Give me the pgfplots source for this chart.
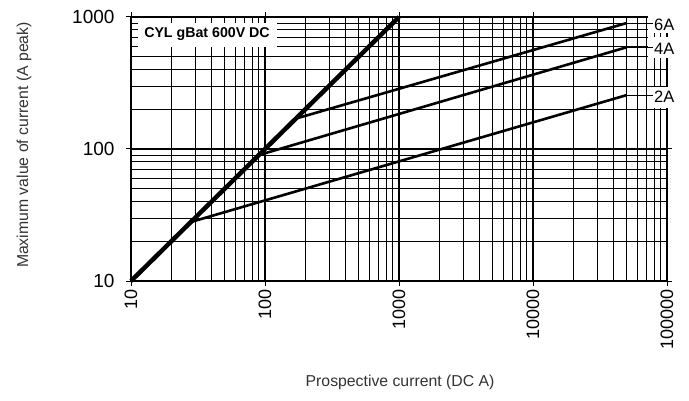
\documentclass[border=0pt]{standalone}
\usepackage{fontspec}
\setmainfont{Liberation Sans}
\usepackage{pgfplots}
\pgfplotsset{compat=1.18}
\begin{document}
\begin{tikzpicture}
\path[use as bounding box] (0,0) rectangle (689pt,400pt);
\begin{axis}[
  at={(131pt,119pt)}, anchor=south west,
  width=536pt, height=264pt, scale only axis,
  xmode=log, ymode=log,
  xmin=10, xmax=100000, ymin=10, ymax=1000,
  xtick={10,100,1000,10000,100000},
  xticklabels={10,100,1000,10000,100000},
  ytick={10,100,1000}, yticklabels={10,100,1000},
  grid=both,
  major grid style={black, line width=1.1pt},
  minor grid style={black, line width=0.85pt},
  axis line style={black, line width=1.4pt},
  tick align=outside,
  major tick length=5pt,
  minor tick length=0pt,
  tick style={black, line width=1pt},
  xticklabel style={rotate=90, anchor=east, font=\fontsize{18}{18}\selectfont},
  yticklabel style={font=\fontsize{19}{19}\selectfont, xshift=-8pt},
  /pgf/number format/assume math mode=true,
  xlabel={Prospective current (DC A)},
  ylabel={Maximum value of current (A peak)},
  label style={font=\fontsize{15.8}{16}\selectfont, text=black!80},
  xlabel style={at={(axis description cs:0.502,-0.386)}, anchor=center},
  ylabel style={at={(axis description cs:-0.1996,0.515)}, anchor=center},
  clip=false,
]
% main curves
\addplot[black, line width=4.5pt] coordinates {(10,10) (1000,1000)};
\addplot[black, line width=2.6pt] coordinates {(170,170) (50000,900)};
\addplot[black, line width=2.6pt] coordinates {(90,90) (50000,590)};
\addplot[black, line width=2.6pt] coordinates {(28,28) (50000,256)};
% white label boxes
\fill[white] (rel axis cs:0.9646,0.939) rectangle (rel axis cs:1.041,1.064);
\fill[white] (rel axis cs:0.9646,0.845) rectangle (rel axis cs:1.041,0.924);
\fill[white] (rel axis cs:0.9646,0.655) rectangle (rel axis cs:1.041,0.735);
% leader lines
\addplot[black, line width=1pt] coordinates {(50000,900) (78000,900)};
\addplot[black, line width=1pt] coordinates {(50000,590) (78000,590)};
\addplot[black, line width=1pt] coordinates {(50000,256) (78000,256)};
\node[anchor=west, inner sep=1.5pt, font=\fontsize{16.5}{16.5}\selectfont] at (axis cs:78000,870) {6A};
\node[anchor=west, inner sep=1.5pt, font=\fontsize{16.5}{16.5}\selectfont] at (axis cs:78000,575) {4A};
\node[anchor=west, inner sep=1.5pt, font=\fontsize{16.5}{16.5}\selectfont] at (axis cs:78000,248) {2A};
% title box
\node[fill=white, minimum width=139pt, minimum height=24pt, inner sep=0pt,
      font=\fontsize{14.2}{14}\selectfont\bfseries] at (rel axis cs:0.1418,0.9337) {CYL gBat 600V DC};
\end{axis}
\end{tikzpicture}
\end{document}
